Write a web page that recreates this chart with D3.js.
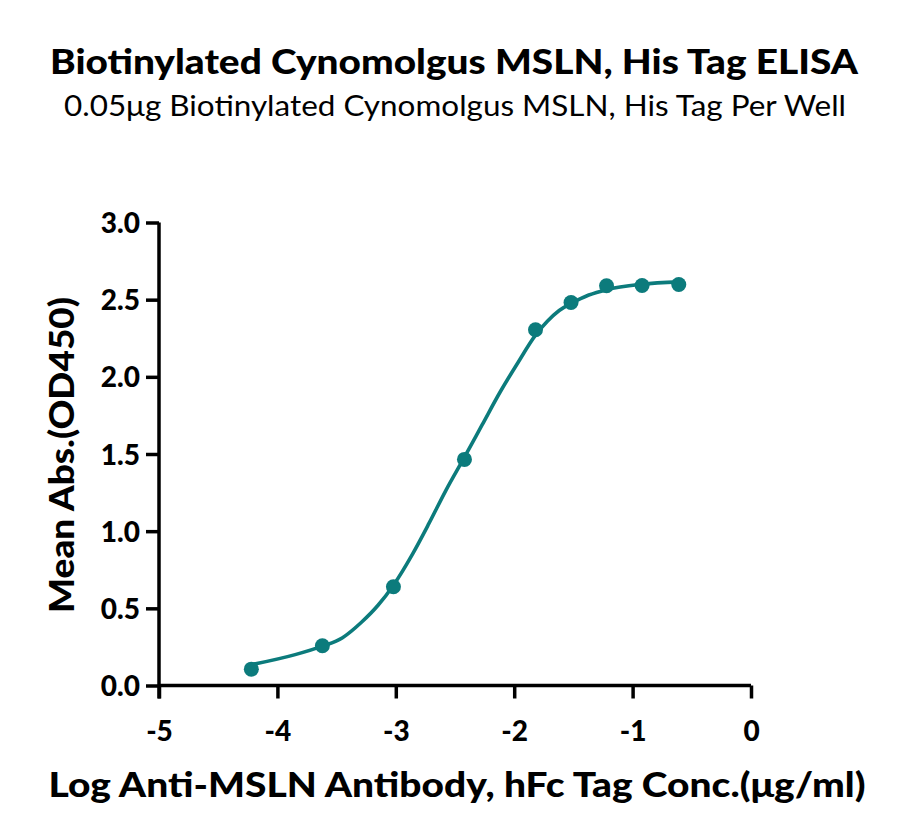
<!DOCTYPE html>
<html>
<head>
<meta charset="utf-8">
<script src="https://cdn.jsdelivr.net/npm/d3@7"></script>
<style>
  body { margin: 0; background: #fff; }
  text { font-family: Lato, "Noto Sans", sans-serif; fill: #000; }
</style>
</head>
<body>
<svg id="chart" width="900" height="840"></svg>
<script>
// measured points: log10 concentration vs mean OD450
let logConc = [-4.22, -3.62, -3.02, -2.42, -1.82, -1.52, -1.22, -0.92, -0.61];
let meanOD = [0.106, 0.258, 0.640, 1.465, 2.305, 2.482, 2.590, 2.592, 2.598];

// fitted curve
let fitX = [-4.22, -3.85, -3.62, -3.45, -3.29, -3.15, -3.02, -2.86, -2.72, -2.58, -2.42, -2.27, -2.12, -1.97, -1.82, -1.72, -1.62, -1.52, -1.37, -1.22, -0.92, -0.61];
let fitY = [0.135, 0.20, 0.255, 0.31, 0.41, 0.52, 0.65, 0.85, 1.05, 1.26, 1.48, 1.69, 1.90, 2.09, 2.27, 2.36, 2.43, 2.475, 2.53, 2.565, 2.60, 2.615];

let xTicks = [-5, -4, -3, -2, -1, 0];
let yTicks = [0, 0.5, 1.0, 1.5, 2.0, 2.5, 3.0];

let color = '#0c7b7c';
let svg = d3.select('#chart');

let x = d3.scaleLinear().domain([-5, 0]).range([159, 751]);
let y = d3.scaleLinear().domain([0, 3]).range([685.5, 222.5]);

// squeeze text to the width it has in the picture
function fitText(sel, w) {
  sel.attr('textLength', w).attr('lengthAdjust', 'spacingAndGlyphs');
}

// titles
svg.append('text').attr('x', 454).attr('y', 74).attr('text-anchor', 'middle')
    .style('font-size', '34px').style('font-weight', 900)
    .text('Biotinylated Cynomolgus MSLN, His Tag ELISA').call(fitText, 808);
svg.append('text').attr('x', 455).attr('y', 116).attr('text-anchor', 'middle')
    .style('font-size', '29px')
    .text('0.05μg Biotinylated Cynomolgus MSLN, His Tag Per Well').call(fitText, 782);

// axes
let xAxis = svg.append('g').attr('transform', 'translate(0,' + y(0) + ')')
    .call(d3.axisBottom(x).tickValues(xTicks).tickFormat(function(d) { return String(d); }).tickSize(13));
let yAxis = svg.append('g').attr('transform', 'translate(' + x(-5) + ',0)')
    .call(d3.axisLeft(y).tickValues(yTicks).tickFormat(d3.format('.1f')).tickSize(13).tickPadding(6));

[xAxis, yAxis].forEach(function(a) {
  a.select('.domain').attr('stroke', '#000').attr('stroke-width', 3.5);
  a.selectAll('.tick line').attr('stroke', '#000').attr('stroke-width', 3.5);
  a.selectAll('.tick text').style('font-family', 'Lato, "Noto Sans", sans-serif')
      .style('font-size', '28px').style('font-weight', 900).attr('fill', '#000');
});
// no outer tick caps, y line runs down past the x axis
xAxis.select('.domain').attr('d', 'M' + x(-5) + ',0H' + x(0));
yAxis.select('.domain').attr('d', 'M0,' + y(3) + 'V' + (y(0) + 13));
xAxis.selectAll('.tick text').attr('y', 55).attr('dy', 0);
yAxis.selectAll('.tick text').attr('dy', '0.36em');

// axis titles
svg.append('text').attr('x', 457).attr('y', 797).attr('text-anchor', 'middle')
    .style('font-size', '35px').style('font-weight', 900)
    .text('Log Anti-MSLN Antibody, hFc Tag Conc.(μg/ml)').call(fitText, 817);
svg.append('text').attr('transform', 'translate(74,455) rotate(-90)').attr('text-anchor', 'middle')
    .style('font-size', '35px').style('font-weight', 900)
    .text('Mean Abs.(OD450)').call(fitText, 316);

// fit curve
let line = d3.line().x(function(d, i) { return x(fitX[i]); })
    .y(function(d, i) { return y(fitY[i]); }).curve(d3.curveMonotoneX);
svg.append('path').datum(fitX).attr('d', line)
    .attr('fill', 'none').attr('stroke', color).attr('stroke-width', 3.6);

// data points
svg.append('g').selectAll('circle').data(logConc).join('circle')
    .attr('cx', function(d) { return x(d); })
    .attr('cy', function(d, i) { return y(meanOD[i]); })
    .attr('r', 7.5).attr('fill', color);
</script>
</body>
</html>
